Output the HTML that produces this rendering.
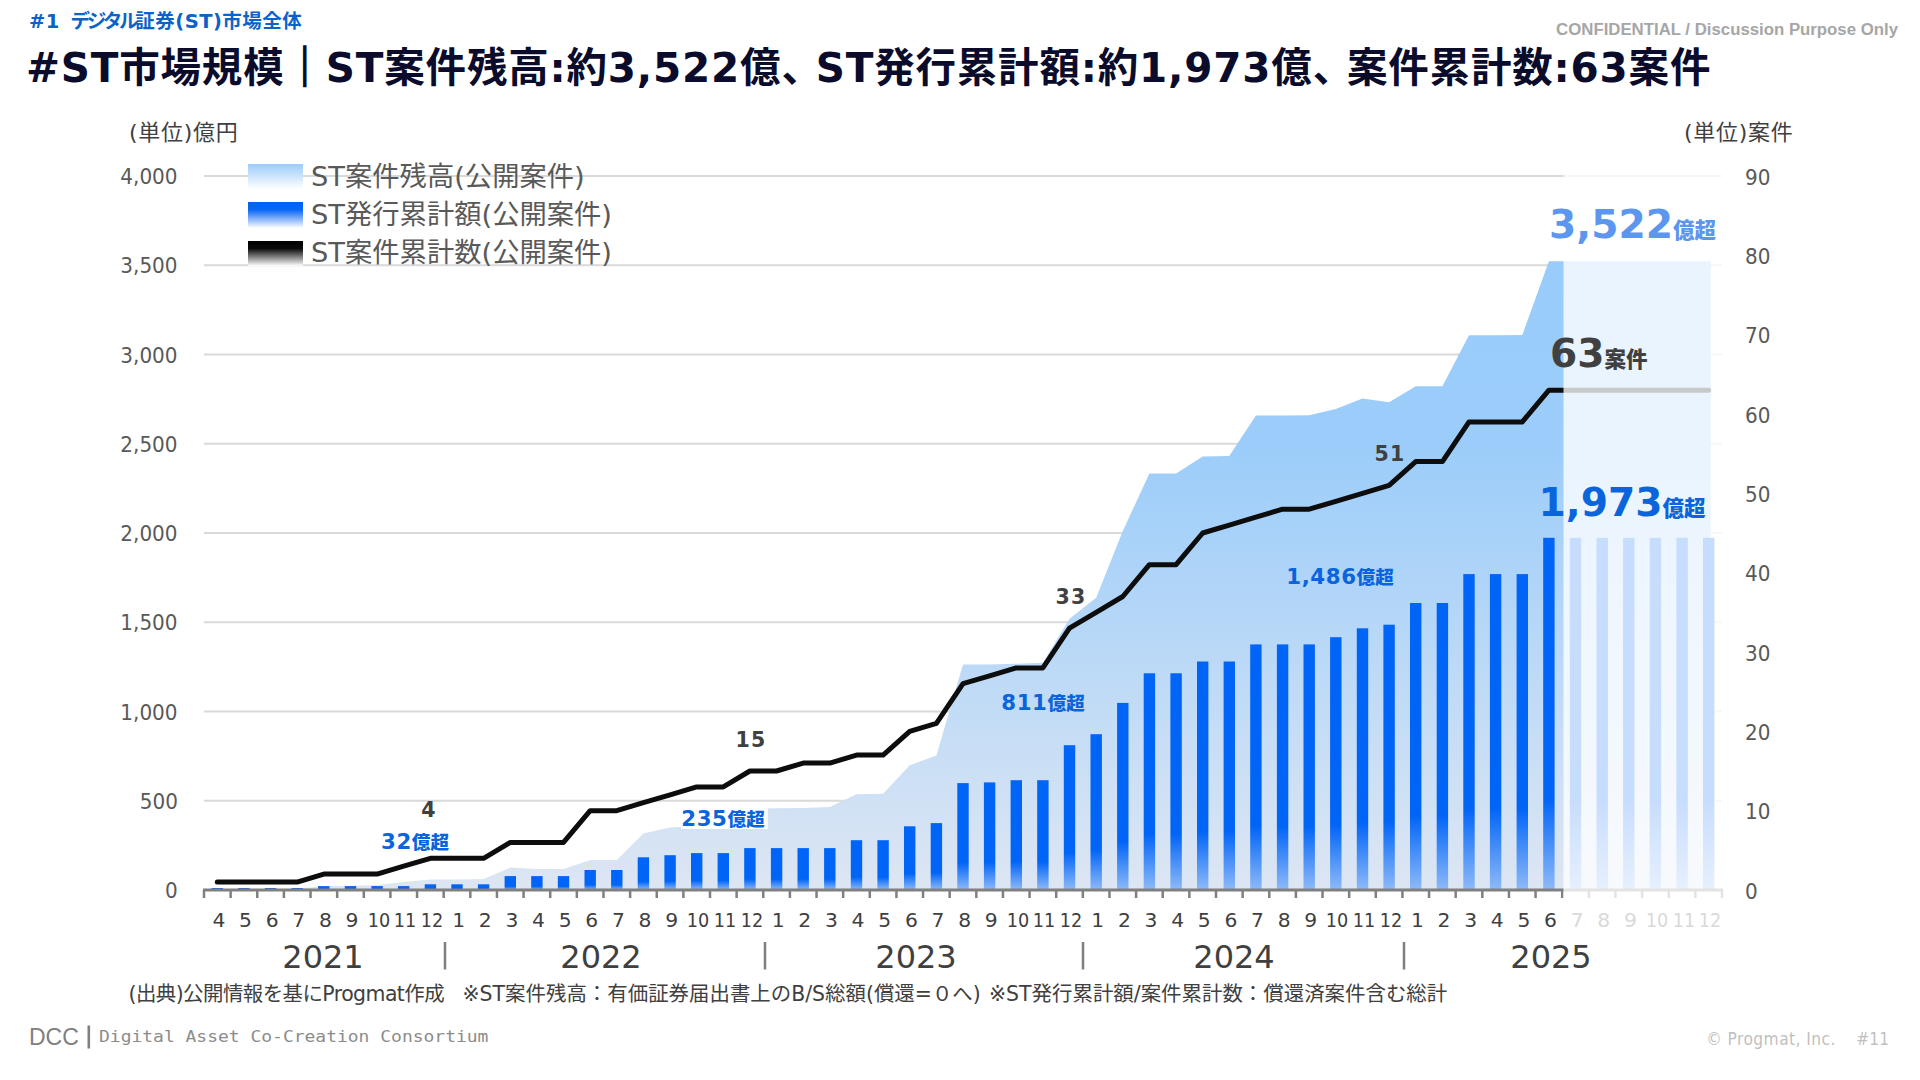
<!DOCTYPE html>
<html lang="ja"><head><meta charset="utf-8"><title>ST市場規模</title>
<style>
html,body{margin:0;padding:0;background:#fff;}
body{width:1920px;height:1080px;position:relative;overflow:hidden;font-family:"DejaVu Sans","Liberation Sans","Noto Sans CJK JP",sans-serif;}
.chart{position:absolute;left:0;top:0;}
.t{position:absolute;white-space:nowrap;line-height:1;transform:translateY(-50%);}
.crumb{font-size:19.5px;letter-spacing:0.47px;font-weight:bold;color:#0a64c8;}
.title{font-size:40.5px;letter-spacing:0.82px;font-weight:bold;color:#0b0b2b;}
.cm{margin-right:-7px;}
.kn{letter-spacing:-3.2px;margin-left:3.4px;}
.vb{-webkit-text-stroke:1.6px #0b0b2b;}
.conf{font-size:16.8px;font-weight:bold;color:#a6a6a6;font-family:"Liberation Sans","Noto Sans CJK JP",sans-serif;}
.unit{font-size:22px;letter-spacing:0.7px;color:#404040;}
.ax{font-size:21.5px;color:#595959;}
.axr{transform:translateY(-50%) scaleX(0.93);transform-origin:left center;}
.axl{transform:translateY(-50%) scaleX(0.93);transform-origin:right center;}
.leg{font-size:27.3px;color:#595959;}
.mo{font-size:20.3px;color:#404040;}
.mo.fut{color:#d9d9d9;}
.yr{font-size:32px;color:#404040;}
.note{font-size:20.45px;color:#404040;}
.n1{letter-spacing:-0.55px;}
.dcc{font-size:23px;color:#808080;font-family:"Liberation Sans",sans-serif;}
.dcct{font-size:16px;color:#8c8c8c;font-family:"DejaVu Sans Mono","Liberation Mono",monospace;transform:translateY(-50%) scaleX(1.123);transform-origin:left center;}
.copy{font-size:17.2px;letter-spacing:0.45px;color:#bfbfbf;font-family:"DejaVu Sans Condensed","DejaVu Sans",sans-serif;}
.copy .pg{margin-left:20.5px;letter-spacing:0;}
.dl{font-weight:bold;}
.cnt{font-size:20.5px;letter-spacing:1.2px;color:#404040;}
.amt{font-size:21.3px;letter-spacing:0.6px;color:#0a64dc;}
.amt .s{font-size:18.6px;font-weight:900;-webkit-text-stroke:0;letter-spacing:0;}
.big{font-weight:bold;}
.b1{font-size:39.2px;color:#5c96ee;}
.b2{font-size:39.2px;color:#404040;}
.b3{font-size:39.2px;color:#0a64dc;}
.big .s{font-size:21.5px;font-weight:900;}
</style></head>
<body>
<svg class="chart" width="1920" height="1080" viewBox="0 0 1920 1080">
<defs>
<linearGradient id="ga" x1="0" y1="261" x2="0" y2="890" gradientUnits="userSpaceOnUse"><stop offset="0" stop-color="#99ccfb"/><stop offset="0.3" stop-color="#9ccdfa"/><stop offset="1" stop-color="#dde6f3"/></linearGradient>
<linearGradient id="gb" x1="0" y1="0" x2="0" y2="1"><stop offset="0" stop-color="#0064f7"/><stop offset="0.74" stop-color="#0064f7"/><stop offset="1" stop-color="#8ebaf8"/></linearGradient>
<linearGradient id="gl1" x1="0" y1="0" x2="0" y2="1"><stop offset="0" stop-color="#9ccbfa"/><stop offset="1" stop-color="#ffffff"/></linearGradient>
<linearGradient id="gl2" x1="0" y1="0" x2="0" y2="1"><stop offset="0" stop-color="#0060f5"/><stop offset="0.3" stop-color="#0a66f5"/><stop offset="1" stop-color="#ffffff"/></linearGradient>
<linearGradient id="gl3" x1="0" y1="0" x2="0" y2="1"><stop offset="0" stop-color="#000000"/><stop offset="0.3" stop-color="#0a0a0a"/><stop offset="1" stop-color="#ffffff"/></linearGradient>
</defs>
<rect x="204.0" y="799.75" width="1518.0" height="2" fill="#d9d9d9"/>
<rect x="204.0" y="710.50" width="1518.0" height="2" fill="#d9d9d9"/>
<rect x="204.0" y="621.25" width="1518.0" height="2" fill="#d9d9d9"/>
<rect x="204.0" y="532.00" width="1518.0" height="2" fill="#d9d9d9"/>
<rect x="204.0" y="442.75" width="1518.0" height="2" fill="#d9d9d9"/>
<rect x="204.0" y="353.50" width="1518.0" height="2" fill="#d9d9d9"/>
<rect x="204.0" y="264.25" width="1518.0" height="2" fill="#d9d9d9"/>
<rect x="204.0" y="175.00" width="1518.0" height="2" fill="#d9d9d9"/>
<polygon fill="url(#ga)" points="217.3,890.0 217.3,889.5 243.9,889.3 270.6,889.1 297.2,888.8 323.8,886.1 350.5,885.7 377.1,885.0 403.7,882.0 430.4,879.5 457.0,879.5 483.6,878.9 510.3,867.5 536.9,868.9 563.5,868.9 590.2,860.0 616.8,860.0 643.4,833.4 670.1,827.5 696.7,826.3 723.3,825.7 749.9,808.8 776.6,808.2 803.2,807.9 829.8,807.0 856.5,794.3 883.1,793.8 909.7,765.2 936.4,755.4 963.0,664.6 989.6,664.6 1016.3,663.7 1042.9,662.8 1069.5,618.7 1096.2,597.8 1122.8,531.0 1149.4,473.4 1176.1,473.4 1202.7,456.4 1229.3,455.9 1255.9,415.5 1282.6,415.5 1309.2,415.2 1335.8,409.1 1362.5,398.4 1389.1,402.2 1415.7,386.3 1442.4,386.3 1469.0,335.2 1495.6,335.2 1522.3,334.9 1548.9,261.3 1575.5,261.3 1602.2,261.3 1628.8,261.3 1655.4,261.3 1682.1,261.3 1708.7,261.3 1710.7,261.3 1710.7,890.0"/>
<rect x="211.6" y="888.0" width="11.4" height="2.0" fill="url(#gb)"/>
<rect x="238.2" y="888.0" width="11.4" height="2.0" fill="url(#gb)"/>
<rect x="264.9" y="888.0" width="11.4" height="2.0" fill="url(#gb)"/>
<rect x="291.5" y="888.0" width="11.4" height="2.0" fill="url(#gb)"/>
<rect x="318.1" y="886.1" width="11.4" height="3.9" fill="url(#gb)"/>
<rect x="344.8" y="886.1" width="11.4" height="3.9" fill="url(#gb)"/>
<rect x="371.4" y="886.1" width="11.4" height="3.9" fill="url(#gb)"/>
<rect x="398.0" y="886.1" width="11.4" height="3.9" fill="url(#gb)"/>
<rect x="424.7" y="884.3" width="11.4" height="5.7" fill="url(#gb)"/>
<rect x="451.3" y="884.3" width="11.4" height="5.7" fill="url(#gb)"/>
<rect x="477.9" y="884.3" width="11.4" height="5.7" fill="url(#gb)"/>
<rect x="504.6" y="876.1" width="11.4" height="13.9" fill="url(#gb)"/>
<rect x="531.2" y="876.1" width="11.4" height="13.9" fill="url(#gb)"/>
<rect x="557.8" y="876.1" width="11.4" height="13.9" fill="url(#gb)"/>
<rect x="584.5" y="870.0" width="11.4" height="20.0" fill="url(#gb)"/>
<rect x="611.1" y="870.0" width="11.4" height="20.0" fill="url(#gb)"/>
<rect x="637.7" y="857.3" width="11.4" height="32.7" fill="url(#gb)"/>
<rect x="664.4" y="855.2" width="11.4" height="34.8" fill="url(#gb)"/>
<rect x="691.0" y="853.1" width="11.4" height="36.9" fill="url(#gb)"/>
<rect x="717.6" y="853.1" width="11.4" height="36.9" fill="url(#gb)"/>
<rect x="744.2" y="848.1" width="11.4" height="41.9" fill="url(#gb)"/>
<rect x="770.9" y="848.1" width="11.4" height="41.9" fill="url(#gb)"/>
<rect x="797.5" y="848.1" width="11.4" height="41.9" fill="url(#gb)"/>
<rect x="824.1" y="848.1" width="11.4" height="41.9" fill="url(#gb)"/>
<rect x="850.8" y="840.2" width="11.4" height="49.8" fill="url(#gb)"/>
<rect x="877.4" y="840.2" width="11.4" height="49.8" fill="url(#gb)"/>
<rect x="904.0" y="826.3" width="11.4" height="63.7" fill="url(#gb)"/>
<rect x="930.7" y="823.1" width="11.4" height="66.9" fill="url(#gb)"/>
<rect x="957.3" y="783.1" width="11.4" height="106.9" fill="url(#gb)"/>
<rect x="983.9" y="782.4" width="11.4" height="107.6" fill="url(#gb)"/>
<rect x="1010.6" y="780.2" width="11.4" height="109.8" fill="url(#gb)"/>
<rect x="1037.2" y="780.2" width="11.4" height="109.8" fill="url(#gb)"/>
<rect x="1063.8" y="745.2" width="11.4" height="144.8" fill="url(#gb)"/>
<rect x="1090.5" y="734.2" width="11.4" height="155.8" fill="url(#gb)"/>
<rect x="1117.1" y="702.9" width="11.4" height="187.1" fill="url(#gb)"/>
<rect x="1143.7" y="673.3" width="11.4" height="216.7" fill="url(#gb)"/>
<rect x="1170.4" y="673.3" width="11.4" height="216.7" fill="url(#gb)"/>
<rect x="1197.0" y="661.5" width="11.4" height="228.5" fill="url(#gb)"/>
<rect x="1223.6" y="661.5" width="11.4" height="228.5" fill="url(#gb)"/>
<rect x="1250.2" y="644.4" width="11.4" height="245.6" fill="url(#gb)"/>
<rect x="1276.9" y="644.4" width="11.4" height="245.6" fill="url(#gb)"/>
<rect x="1303.5" y="644.4" width="11.4" height="245.6" fill="url(#gb)"/>
<rect x="1330.1" y="637.2" width="11.4" height="252.8" fill="url(#gb)"/>
<rect x="1356.8" y="628.3" width="11.4" height="261.7" fill="url(#gb)"/>
<rect x="1383.4" y="624.7" width="11.4" height="265.3" fill="url(#gb)"/>
<rect x="1410.0" y="603.0" width="11.4" height="287.0" fill="url(#gb)"/>
<rect x="1436.7" y="603.0" width="11.4" height="287.0" fill="url(#gb)"/>
<rect x="1463.3" y="574.1" width="11.4" height="315.9" fill="url(#gb)"/>
<rect x="1489.9" y="574.1" width="11.4" height="315.9" fill="url(#gb)"/>
<rect x="1516.6" y="574.1" width="11.4" height="315.9" fill="url(#gb)"/>
<rect x="1543.2" y="537.8" width="11.4" height="352.2" fill="url(#gb)"/>
<rect x="1569.8" y="537.8" width="11.4" height="352.2" fill="url(#gb)"/>
<rect x="1596.5" y="537.8" width="11.4" height="352.2" fill="url(#gb)"/>
<rect x="1623.1" y="537.8" width="11.4" height="352.2" fill="url(#gb)"/>
<rect x="1649.7" y="537.8" width="11.4" height="352.2" fill="url(#gb)"/>
<rect x="1676.4" y="537.8" width="11.4" height="352.2" fill="url(#gb)"/>
<rect x="1703.0" y="537.8" width="11.4" height="352.2" fill="url(#gb)"/>
<rect x="203.0" y="888.5" width="1520.0" height="3" fill="#808080"/>
<rect x="202.75" y="890.0" width="2.5" height="8" fill="#808080"/>
<rect x="229.38" y="890.0" width="2.5" height="8" fill="#808080"/>
<rect x="256.01" y="890.0" width="2.5" height="8" fill="#808080"/>
<rect x="282.64" y="890.0" width="2.5" height="8" fill="#808080"/>
<rect x="309.28" y="890.0" width="2.5" height="8" fill="#808080"/>
<rect x="335.91" y="890.0" width="2.5" height="8" fill="#808080"/>
<rect x="362.54" y="890.0" width="2.5" height="8" fill="#808080"/>
<rect x="389.17" y="890.0" width="2.5" height="8" fill="#808080"/>
<rect x="415.80" y="890.0" width="2.5" height="8" fill="#808080"/>
<rect x="442.43" y="890.0" width="2.5" height="8" fill="#808080"/>
<rect x="469.07" y="890.0" width="2.5" height="8" fill="#808080"/>
<rect x="495.70" y="890.0" width="2.5" height="8" fill="#808080"/>
<rect x="522.33" y="890.0" width="2.5" height="8" fill="#808080"/>
<rect x="548.96" y="890.0" width="2.5" height="8" fill="#808080"/>
<rect x="575.59" y="890.0" width="2.5" height="8" fill="#808080"/>
<rect x="602.22" y="890.0" width="2.5" height="8" fill="#808080"/>
<rect x="628.86" y="890.0" width="2.5" height="8" fill="#808080"/>
<rect x="655.49" y="890.0" width="2.5" height="8" fill="#808080"/>
<rect x="682.12" y="890.0" width="2.5" height="8" fill="#808080"/>
<rect x="708.75" y="890.0" width="2.5" height="8" fill="#808080"/>
<rect x="735.38" y="890.0" width="2.5" height="8" fill="#808080"/>
<rect x="762.01" y="890.0" width="2.5" height="8" fill="#808080"/>
<rect x="788.64" y="890.0" width="2.5" height="8" fill="#808080"/>
<rect x="815.28" y="890.0" width="2.5" height="8" fill="#808080"/>
<rect x="841.91" y="890.0" width="2.5" height="8" fill="#808080"/>
<rect x="868.54" y="890.0" width="2.5" height="8" fill="#808080"/>
<rect x="895.17" y="890.0" width="2.5" height="8" fill="#808080"/>
<rect x="921.80" y="890.0" width="2.5" height="8" fill="#808080"/>
<rect x="948.43" y="890.0" width="2.5" height="8" fill="#808080"/>
<rect x="975.07" y="890.0" width="2.5" height="8" fill="#808080"/>
<rect x="1001.70" y="890.0" width="2.5" height="8" fill="#808080"/>
<rect x="1028.33" y="890.0" width="2.5" height="8" fill="#808080"/>
<rect x="1054.96" y="890.0" width="2.5" height="8" fill="#808080"/>
<rect x="1081.59" y="890.0" width="2.5" height="8" fill="#808080"/>
<rect x="1108.22" y="890.0" width="2.5" height="8" fill="#808080"/>
<rect x="1134.86" y="890.0" width="2.5" height="8" fill="#808080"/>
<rect x="1161.49" y="890.0" width="2.5" height="8" fill="#808080"/>
<rect x="1188.12" y="890.0" width="2.5" height="8" fill="#808080"/>
<rect x="1214.75" y="890.0" width="2.5" height="8" fill="#808080"/>
<rect x="1241.38" y="890.0" width="2.5" height="8" fill="#808080"/>
<rect x="1268.01" y="890.0" width="2.5" height="8" fill="#808080"/>
<rect x="1294.64" y="890.0" width="2.5" height="8" fill="#808080"/>
<rect x="1321.28" y="890.0" width="2.5" height="8" fill="#808080"/>
<rect x="1347.91" y="890.0" width="2.5" height="8" fill="#808080"/>
<rect x="1374.54" y="890.0" width="2.5" height="8" fill="#808080"/>
<rect x="1401.17" y="890.0" width="2.5" height="8" fill="#808080"/>
<rect x="1427.80" y="890.0" width="2.5" height="8" fill="#808080"/>
<rect x="1454.43" y="890.0" width="2.5" height="8" fill="#808080"/>
<rect x="1481.07" y="890.0" width="2.5" height="8" fill="#808080"/>
<rect x="1507.70" y="890.0" width="2.5" height="8" fill="#808080"/>
<rect x="1534.33" y="890.0" width="2.5" height="8" fill="#808080"/>
<rect x="1560.96" y="890.0" width="2.5" height="8" fill="#808080"/>
<rect x="1587.59" y="890.0" width="2.5" height="8" fill="#808080"/>
<rect x="1614.22" y="890.0" width="2.5" height="8" fill="#808080"/>
<rect x="1640.86" y="890.0" width="2.5" height="8" fill="#808080"/>
<rect x="1667.49" y="890.0" width="2.5" height="8" fill="#808080"/>
<rect x="1694.12" y="890.0" width="2.5" height="8" fill="#808080"/>
<rect x="1720.75" y="890.0" width="2.5" height="8" fill="#808080"/>
<polyline fill="none" stroke="#0d0d0d" stroke-width="5" stroke-linejoin="round" stroke-linecap="round" points="217.3,882.1 243.9,882.1 270.6,882.1 297.2,882.1 323.8,874.1 350.5,874.1 377.1,874.1 403.7,866.2 430.4,858.3 457.0,858.3 483.6,858.3 510.3,842.4 536.9,842.4 563.5,842.4 590.2,810.7 616.8,810.7 643.4,802.7 670.1,794.8 696.7,786.9 723.3,786.9 749.9,771.0 776.6,771.0 803.2,763.1 829.8,763.1 856.5,755.1 883.1,755.1 909.7,731.3 936.4,723.4 963.0,683.7 989.6,675.8 1016.3,667.9 1042.9,667.9 1069.5,628.2 1096.2,612.3 1122.8,596.5 1149.4,564.7 1176.1,564.7 1202.7,533.0 1229.3,525.1 1255.9,517.1 1282.6,509.2 1309.2,509.2 1335.8,501.3 1362.5,493.3 1389.1,485.4 1415.7,461.6 1442.4,461.6 1469.0,421.9 1495.6,421.9 1522.3,421.9 1548.9,390.2 1575.5,390.2 1602.2,390.2 1628.8,390.2 1655.4,390.2 1682.1,390.2 1708.7,390.2"/>
<rect x="1563.5" y="150" width="176.5" height="790" fill="#ffffff" fill-opacity="0.78"/>
<rect x="681" y="803" width="86.8" height="26" fill="#ffffff"/>
<rect x="248" y="164" width="55" height="25" fill="url(#gl1)"/>
<rect x="248" y="202" width="55" height="26" fill="url(#gl2)"/>
<rect x="248" y="241" width="55" height="25" fill="url(#gl3)"/>
<rect x="443.75" y="942" width="2.5" height="27.5" fill="#7f7f7f"/>
<rect x="763.75" y="942" width="2.5" height="27.5" fill="#7f7f7f"/>
<rect x="1081.75" y="942" width="2.5" height="27.5" fill="#7f7f7f"/>
<rect x="1402.75" y="942" width="2.5" height="27.5" fill="#7f7f7f"/>
<rect x="87.5" y="1025.5" width="2.6" height="23" fill="#808080"/>
</svg>
<div class="t crumb" style="top:22px;left:29px;">#1&nbsp;<span class="kn">デジタル</span>証券(ST)市場全体</div>
<div class="t title" style="top:68px;left:26px;">#ST市場規模<span class="vb">｜</span>ST案件残高:約3,522億<span class="cm">、</span>ST発行累計額:約1,973億<span class="cm">、</span>案件累計数:63案件</div>
<div class="t conf" style="top:29.7px;right:22px;">CONFIDENTIAL / Discussion Purpose Only</div>
<div class="t unit" style="top:133px;left:129px;">(単位)億円</div>
<div class="t unit" style="top:133px;left:1684px;">(単位)案件</div>
<div class="t ax axl" style="top:891.0px;right:1742px;">0</div>
<div class="t ax axl" style="top:801.75px;right:1742px;">500</div>
<div class="t ax axl" style="top:712.5px;right:1742px;">1,000</div>
<div class="t ax axl" style="top:623.25px;right:1742px;">1,500</div>
<div class="t ax axl" style="top:534.0px;right:1742px;">2,000</div>
<div class="t ax axl" style="top:444.75px;right:1742px;">2,500</div>
<div class="t ax axl" style="top:355.5px;right:1742px;">3,000</div>
<div class="t ax axl" style="top:266.25px;right:1742px;">3,500</div>
<div class="t ax axl" style="top:177.0px;right:1742px;">4,000</div>
<div class="t ax axr" style="top:891.6px;left:1745px;">0</div>
<div class="t ax axr" style="top:812.2666666666667px;left:1745px;">10</div>
<div class="t ax axr" style="top:732.9333333333334px;left:1745px;">20</div>
<div class="t ax axr" style="top:653.6px;left:1745px;">30</div>
<div class="t ax axr" style="top:574.2666666666668px;left:1745px;">40</div>
<div class="t ax axr" style="top:494.93333333333334px;left:1745px;">50</div>
<div class="t ax axr" style="top:415.6px;left:1745px;">60</div>
<div class="t ax axr" style="top:336.26666666666665px;left:1745px;">70</div>
<div class="t ax axr" style="top:256.9333333333334px;left:1745px;">80</div>
<div class="t ax axr" style="top:177.6px;left:1745px;">90</div>
<div class="t leg" style="top:176.5px;left:311px;">ST案件残高(公開案件)</div>
<div class="t leg" style="top:214.5px;left:311px;">ST発行累計額(公開案件)</div>
<div class="t leg" style="top:253px;left:311px;">ST案件累計数(公開案件)</div>
<div class="t mo" style="top:919.7px;left:218.9157894736842px;transform:translate(-50%,-50%);">4</div>
<div class="t mo" style="top:919.7px;left:245.54736842105262px;transform:translate(-50%,-50%);">5</div>
<div class="t mo" style="top:919.7px;left:272.17894736842106px;transform:translate(-50%,-50%);">6</div>
<div class="t mo" style="top:919.7px;left:298.8105263157895px;transform:translate(-50%,-50%);">7</div>
<div class="t mo" style="top:919.7px;left:325.44210526315794px;transform:translate(-50%,-50%);">8</div>
<div class="t mo" style="top:919.7px;left:352.0736842105264px;transform:translate(-50%,-50%);">9</div>
<div class="t mo two" style="top:919.7px;left:378.70526315789476px;transform:translate(-50%,-50%);transform:translate(-50%,-50%) scaleX(0.87);">10</div>
<div class="t mo two" style="top:919.7px;left:405.33684210526314px;transform:translate(-50%,-50%);transform:translate(-50%,-50%) scaleX(0.87);">11</div>
<div class="t mo two" style="top:919.7px;left:431.9684210526316px;transform:translate(-50%,-50%);transform:translate(-50%,-50%) scaleX(0.87);">12</div>
<div class="t mo" style="top:919.7px;left:458.6px;transform:translate(-50%,-50%);">1</div>
<div class="t mo" style="top:919.7px;left:485.23157894736846px;transform:translate(-50%,-50%);">2</div>
<div class="t mo" style="top:919.7px;left:511.86315789473684px;transform:translate(-50%,-50%);">3</div>
<div class="t mo" style="top:919.7px;left:538.4947368421052px;transform:translate(-50%,-50%);">4</div>
<div class="t mo" style="top:919.7px;left:565.1263157894738px;transform:translate(-50%,-50%);">5</div>
<div class="t mo" style="top:919.7px;left:591.7578947368421px;transform:translate(-50%,-50%);">6</div>
<div class="t mo" style="top:919.7px;left:618.3894736842105px;transform:translate(-50%,-50%);">7</div>
<div class="t mo" style="top:919.7px;left:645.021052631579px;transform:translate(-50%,-50%);">8</div>
<div class="t mo" style="top:919.7px;left:671.6526315789474px;transform:translate(-50%,-50%);">9</div>
<div class="t mo two" style="top:919.7px;left:698.2842105263159px;transform:translate(-50%,-50%);transform:translate(-50%,-50%) scaleX(0.87);">10</div>
<div class="t mo two" style="top:919.7px;left:724.9157894736842px;transform:translate(-50%,-50%);transform:translate(-50%,-50%) scaleX(0.87);">11</div>
<div class="t mo two" style="top:919.7px;left:751.5473684210526px;transform:translate(-50%,-50%);transform:translate(-50%,-50%) scaleX(0.87);">12</div>
<div class="t mo" style="top:919.7px;left:778.1789473684211px;transform:translate(-50%,-50%);">1</div>
<div class="t mo" style="top:919.7px;left:804.8105263157895px;transform:translate(-50%,-50%);">2</div>
<div class="t mo" style="top:919.7px;left:831.4421052631579px;transform:translate(-50%,-50%);">3</div>
<div class="t mo" style="top:919.7px;left:858.0736842105264px;transform:translate(-50%,-50%);">4</div>
<div class="t mo" style="top:919.7px;left:884.7052631578948px;transform:translate(-50%,-50%);">5</div>
<div class="t mo" style="top:919.7px;left:911.3368421052631px;transform:translate(-50%,-50%);">6</div>
<div class="t mo" style="top:919.7px;left:937.9684210526316px;transform:translate(-50%,-50%);">7</div>
<div class="t mo" style="top:919.7px;left:964.6px;transform:translate(-50%,-50%);">8</div>
<div class="t mo" style="top:919.7px;left:991.2315789473685px;transform:translate(-50%,-50%);">9</div>
<div class="t mo two" style="top:919.7px;left:1017.8631578947369px;transform:translate(-50%,-50%);transform:translate(-50%,-50%) scaleX(0.87);">10</div>
<div class="t mo two" style="top:919.7px;left:1044.4947368421053px;transform:translate(-50%,-50%);transform:translate(-50%,-50%) scaleX(0.87);">11</div>
<div class="t mo two" style="top:919.7px;left:1071.1263157894737px;transform:translate(-50%,-50%);transform:translate(-50%,-50%) scaleX(0.87);">12</div>
<div class="t mo" style="top:919.7px;left:1097.757894736842px;transform:translate(-50%,-50%);">1</div>
<div class="t mo" style="top:919.7px;left:1124.3894736842103px;transform:translate(-50%,-50%);">2</div>
<div class="t mo" style="top:919.7px;left:1151.0210526315789px;transform:translate(-50%,-50%);">3</div>
<div class="t mo" style="top:919.7px;left:1177.6526315789474px;transform:translate(-50%,-50%);">4</div>
<div class="t mo" style="top:919.7px;left:1204.2842105263157px;transform:translate(-50%,-50%);">5</div>
<div class="t mo" style="top:919.7px;left:1230.915789473684px;transform:translate(-50%,-50%);">6</div>
<div class="t mo" style="top:919.7px;left:1257.5473684210526px;transform:translate(-50%,-50%);">7</div>
<div class="t mo" style="top:919.7px;left:1284.178947368421px;transform:translate(-50%,-50%);">8</div>
<div class="t mo" style="top:919.7px;left:1310.8105263157895px;transform:translate(-50%,-50%);">9</div>
<div class="t mo two" style="top:919.7px;left:1337.4421052631578px;transform:translate(-50%,-50%);transform:translate(-50%,-50%) scaleX(0.87);">10</div>
<div class="t mo two" style="top:919.7px;left:1364.0736842105262px;transform:translate(-50%,-50%);transform:translate(-50%,-50%) scaleX(0.87);">11</div>
<div class="t mo two" style="top:919.7px;left:1390.7052631578947px;transform:translate(-50%,-50%);transform:translate(-50%,-50%) scaleX(0.87);">12</div>
<div class="t mo" style="top:919.7px;left:1417.336842105263px;transform:translate(-50%,-50%);">1</div>
<div class="t mo" style="top:919.7px;left:1443.9684210526316px;transform:translate(-50%,-50%);">2</div>
<div class="t mo" style="top:919.7px;left:1470.6px;transform:translate(-50%,-50%);">3</div>
<div class="t mo" style="top:919.7px;left:1497.2315789473682px;transform:translate(-50%,-50%);">4</div>
<div class="t mo" style="top:919.7px;left:1523.8631578947368px;transform:translate(-50%,-50%);">5</div>
<div class="t mo" style="top:919.7px;left:1550.494736842105px;transform:translate(-50%,-50%);">6</div>
<div class="t mo fut" style="top:919.7px;left:1577.1263157894737px;transform:translate(-50%,-50%);">7</div>
<div class="t mo fut" style="top:919.7px;left:1603.757894736842px;transform:translate(-50%,-50%);">8</div>
<div class="t mo fut" style="top:919.7px;left:1630.3894736842105px;transform:translate(-50%,-50%);">9</div>
<div class="t mo fut two" style="top:919.7px;left:1657.0210526315789px;transform:translate(-50%,-50%);transform:translate(-50%,-50%) scaleX(0.87);">10</div>
<div class="t mo fut two" style="top:919.7px;left:1683.6526315789472px;transform:translate(-50%,-50%);transform:translate(-50%,-50%) scaleX(0.87);">11</div>
<div class="t mo fut two" style="top:919.7px;left:1710.2842105263157px;transform:translate(-50%,-50%);transform:translate(-50%,-50%) scaleX(0.87);">12</div>
<div class="t yr" style="top:957px;left:323px;transform:translate(-50%,-50%);">2021</div>
<div class="t yr" style="top:957px;left:601px;transform:translate(-50%,-50%);">2022</div>
<div class="t yr" style="top:957px;left:916px;transform:translate(-50%,-50%);">2023</div>
<div class="t yr" style="top:957px;left:1234px;transform:translate(-50%,-50%);">2024</div>
<div class="t yr" style="top:957px;left:1551px;transform:translate(-50%,-50%);">2025</div>
<div class="t note n1" style="top:994px;left:128.5px;">(出典)公開情報を基にProgmat作成</div>
<div class="t note n2" style="top:994px;left:462.5px;">※ST案件残高：有価証券届出書上のB/S総額(償還=０へ)</div>
<div class="t note n3" style="top:994px;left:989px;">※ST発行累計額/案件累計数：償還済案件含む総計</div>
<div class="t dcc" style="top:1037px;left:29px;">DCC</div>
<div class="t dcct" style="top:1036.5px;left:99px;">Digital Asset Co-Creation Consortium</div>
<div class="t copy" style="top:1039.5px;right:31px;">© Progmat, Inc.<span class="pg">#11</span></div>
<div class="t dl cnt" style="top:810px;left:429px;transform:translate(-50%,-50%);">4</div>
<div class="t dl cnt" style="top:740px;left:751px;transform:translate(-50%,-50%);">15</div>
<div class="t dl cnt" style="top:597px;left:1071px;transform:translate(-50%,-50%);">33</div>
<div class="t dl cnt" style="top:454px;left:1390px;transform:translate(-50%,-50%);">51</div>
<div class="t dl amt" style="top:842px;left:415px;transform:translate(-50%,-50%);">32<span class="s">億超</span></div>
<div class="t dl amt" style="top:819px;left:723px;transform:translate(-50%,-50%);">235<span class="s">億超</span></div>
<div class="t dl amt" style="top:703px;left:1043px;transform:translate(-50%,-50%);">811<span class="s">億超</span></div>
<div class="t dl amt" style="top:577px;left:1340px;transform:translate(-50%,-50%);">1,486<span class="s">億超</span></div>
<div class="t big b1" style="top:225px;left:1549px;">3,522<span class="s">億超</span></div>
<div class="t big b2" style="top:354px;left:1550px;">63<span class="s">案件</span></div>
<div class="t big b3" style="top:503px;left:1538.5px;">1,973<span class="s">億超</span></div>
</body></html>
